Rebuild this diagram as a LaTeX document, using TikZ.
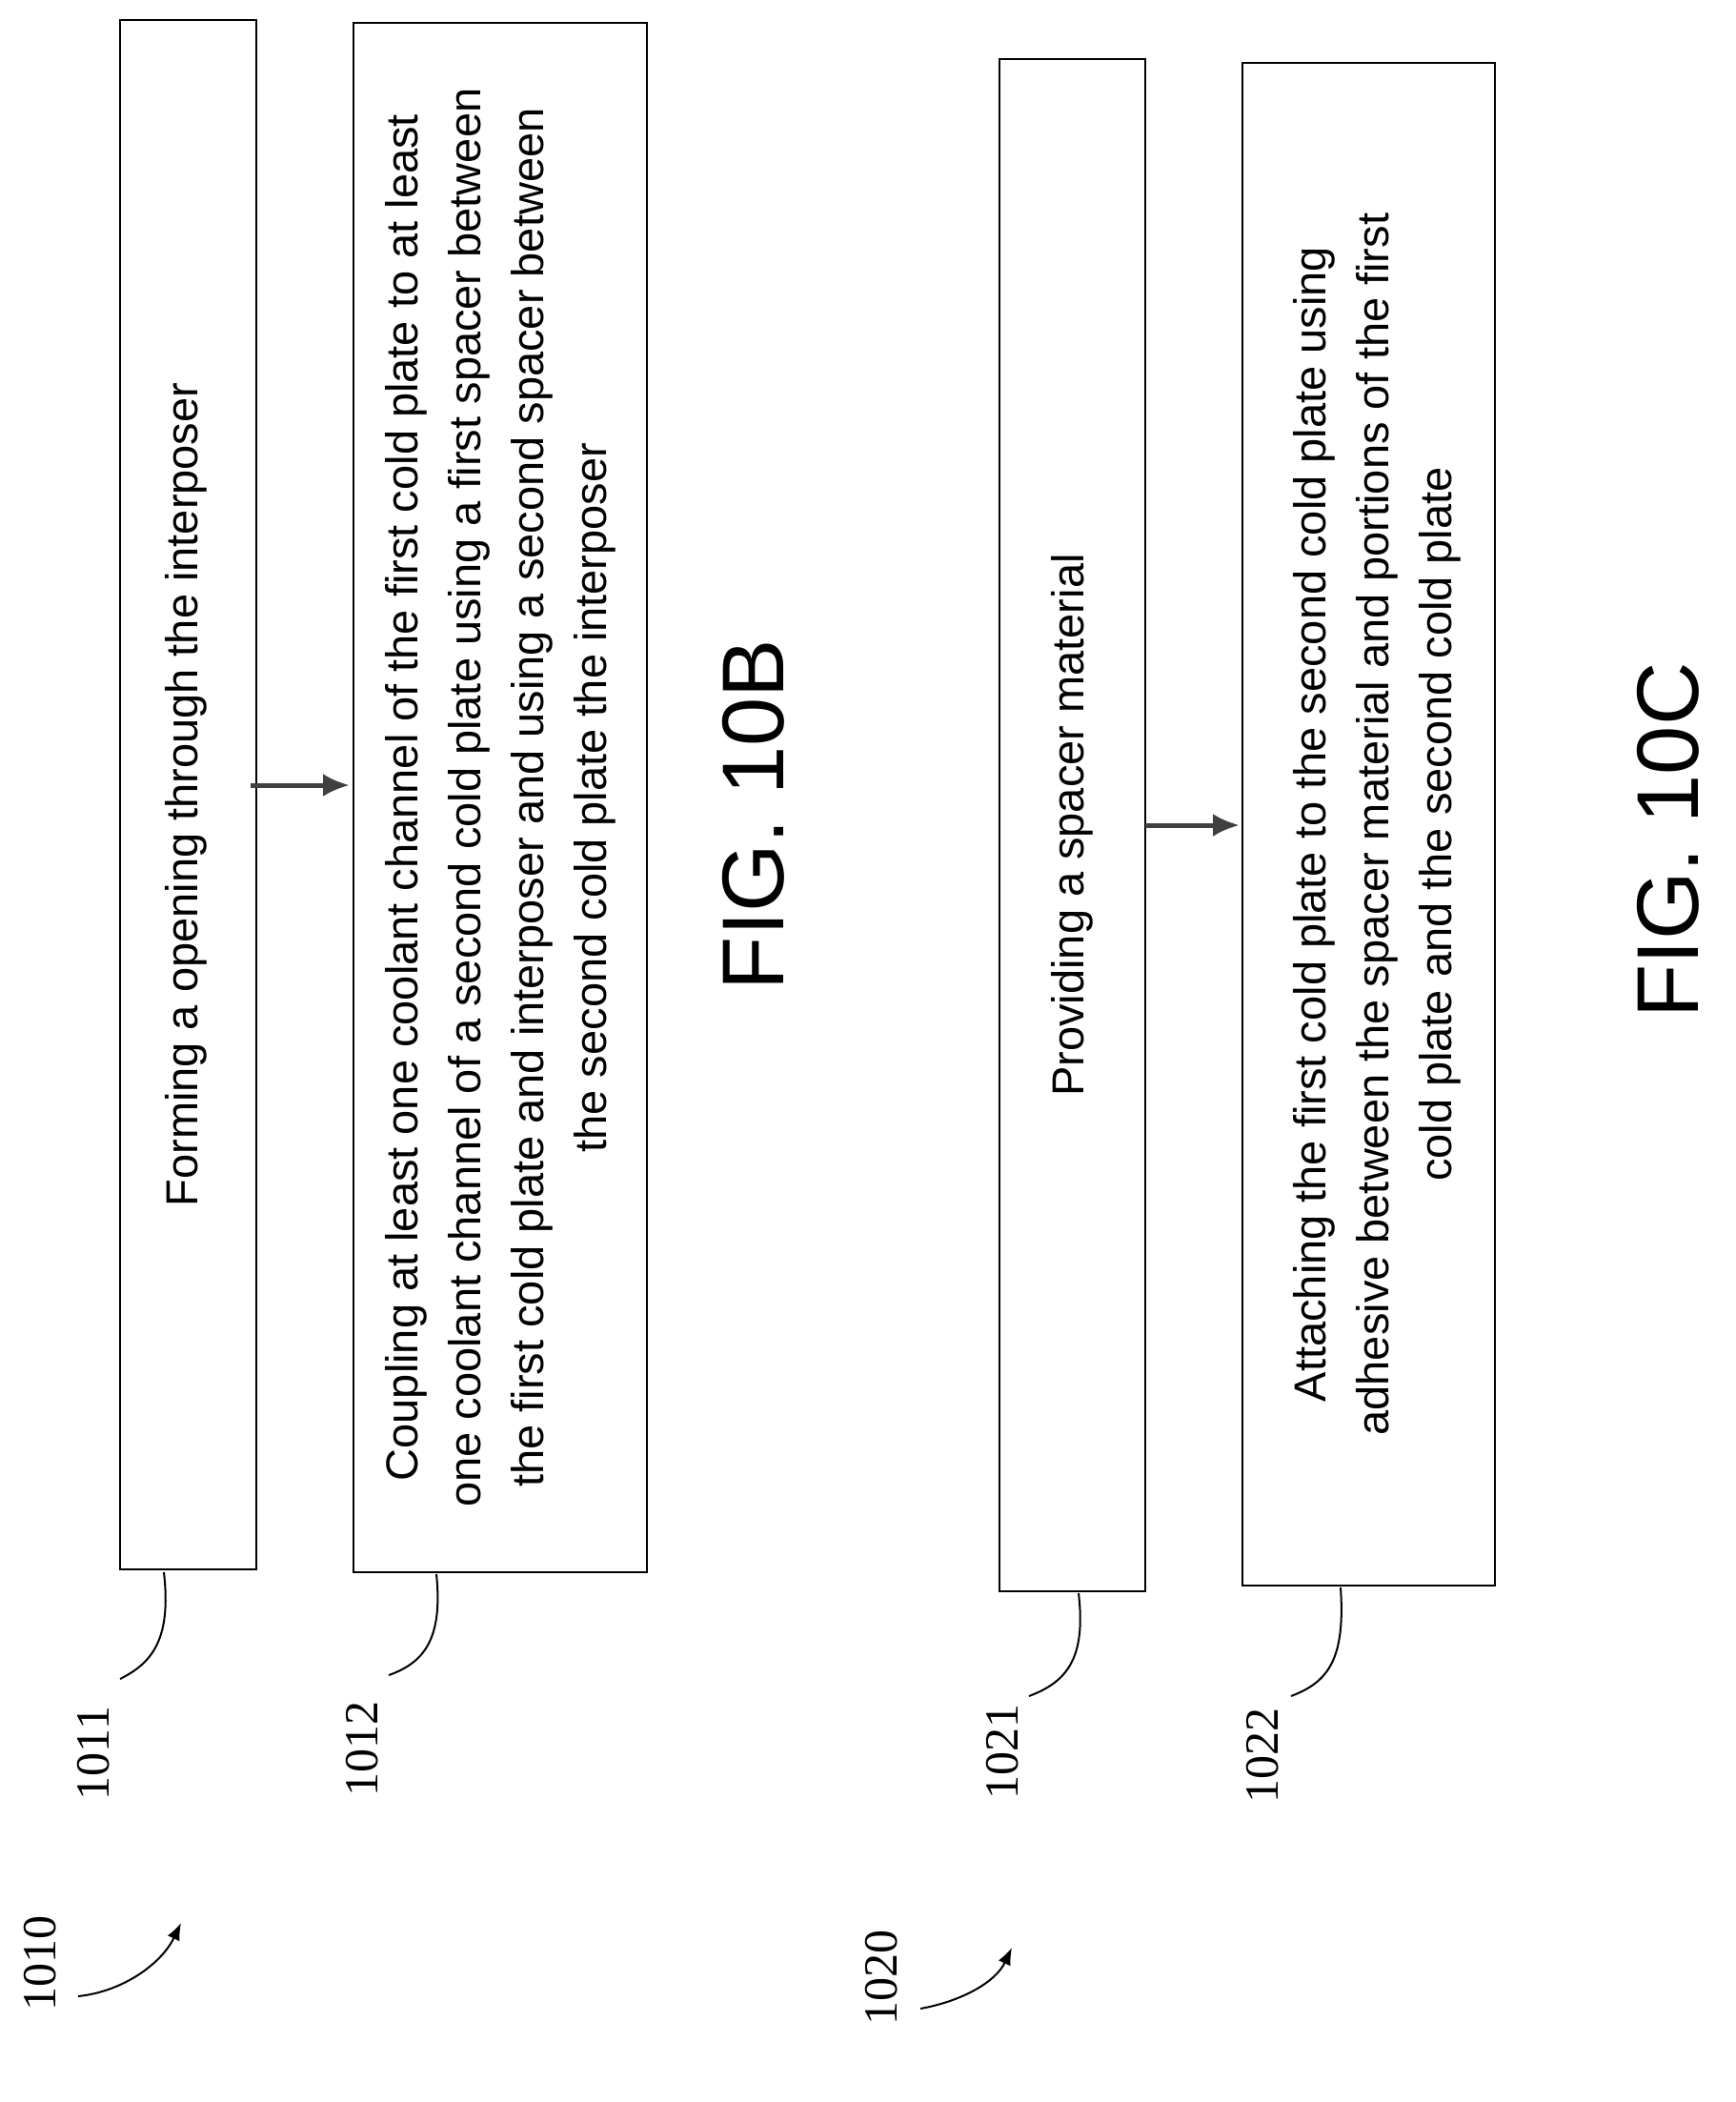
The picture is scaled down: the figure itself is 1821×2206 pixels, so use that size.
\documentclass[tikz,border=0pt]{standalone}
\usepackage{fontspec}
\usetikzlibrary{arrows.meta}
\setmainfont{Liberation Sans}
\newfontfamily\numfont{Liberation Serif}
\begin{document}
\begin{tikzpicture}[x=1pt,y=-1pt,
 box/.style={draw,line width=2.5pt},
 txt/.style={rotate=90,align=center,font=\fontsize{47}{66}\selectfont},
 num/.style={rotate=90,font=\numfont\fontsize{50}{54}\selectfont},
 fig/.style={rotate=90,font=\fontsize{92}{100}\selectfont},
 lead/.style={line width=2pt},
 arr/.style={draw=black!75,line width=5pt,-{Latex[length=28pt,width=24pt]}}]
\useasboundingbox (0,0) rectangle (1821,2206);
% boxes
\draw[box] (126,21) rectangle (269,1647);
\draw[box] (371,24) rectangle (679,1650);
\draw[box] (1049,62) rectangle (1202,1670);
\draw[box] (1304,66) rectangle (1569,1664);
\node[txt] (t1) at (195,834) {Forming a opening through the interposer};
\node[txt] (t2) at (525,837) {Coupling at least one coolant channel of the first cold plate to at least\\one coolant channel of a second cold plate using a first spacer between\\the first cold plate and interposer and using a second spacer between\\the second cold plate the interposer};
\node[txt] (t3) at (1125.5,866) {Providing a spacer material};
\node[txt] (t4) at (1445,865) {Attaching the first cold plate to the second cold plate using\\adhesive between the spacer material and portions of the first\\cold plate and the second cold plate};
\coordinate (a1) at (263,824); \coordinate (b1) at (367,824);
\coordinate (a2) at (1202,866); \coordinate (b2) at (1301,866);
\draw[arr] (a1) -- (b1);
\draw[arr] (a2) -- (b2);
\node[fig] (f1) at (791,855) {FIG. 10B};
\node[fig] (f2) at (1751,882) {FIG. 10C};
% numbers
\node[num] (n1011) at (98,1840) {1011};
\node[num] (n1012) at (380,1835) {1012};
\node[num] (n1021) at (1052,1838) {1021};
\node[num] (n1022) at (1325,1842) {1022};
\node[num] (n1010) at (42,2060) {1010};
\node[num] (n1020) at (925,2075) {1020};
\coordinate (c1) at (172,1650); \coordinate (c2) at (458,1652);
\coordinate (c3) at (1132,1672); \coordinate (c4) at (1407,1666);
\draw[lead] (c1) .. controls (180,1720) and (160,1745) .. (126,1762);
\draw[lead] (c2) .. controls (465,1720) and (445,1745) .. (408,1758);
\draw[lead] (c3) .. controls (1140,1740) and (1120,1765) .. (1080,1780);
\draw[lead] (c4) .. controls (1412,1740) and (1395,1765) .. (1355,1780);
\coordinate (d1) at (82,2095); \coordinate (e1) at (190,2018);
\coordinate (d2) at (966,2108); \coordinate (e2) at (1062,2044);
\draw[line width=2pt,-{Latex[length=18pt,width=14pt]}] (d1) .. controls (130,2090) and (170,2060) .. (e1);
\draw[line width=2pt,-{Latex[length=18pt,width=14pt]}] (d2) .. controls (1010,2100) and (1045,2080) .. (e2);
\end{tikzpicture}
\end{document}
